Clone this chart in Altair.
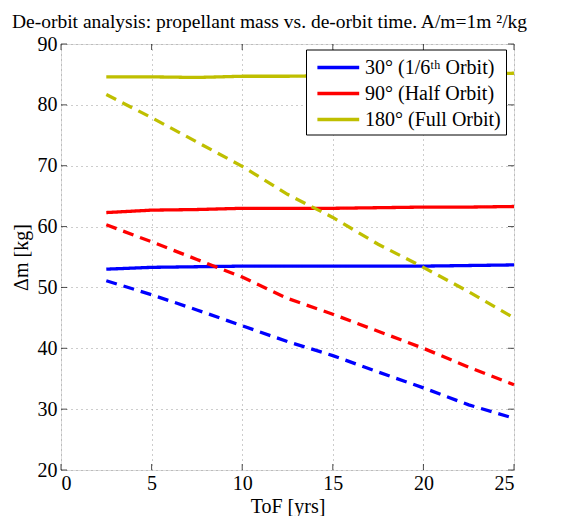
import altair as alt
import pandas as pd

tof = [2.5, 5, 7.5, 10, 12.5, 15, 17.5, 20, 22.5, 25]

series_names = ["30° (1/6ᵗʰ Orbit)", "90° (Half Orbit)", "180° (Full Orbit)"]
series_colors = ["#0000FF", "#FF0000", "#BFBF00"]

solid_30 = [53.0, 53.3, 53.4, 53.5, 53.5, 53.5, 53.5, 53.5, 53.6, 53.7]
solid_90 = [62.3, 62.7, 62.8, 63.0, 63.0, 63.0, 63.1, 63.2, 63.2, 63.3]
solid_180 = [84.6, 84.6, 84.5, 84.7, 84.7, 84.8, 84.8, 84.9, 85.0, 85.2]

dash_30 = [51.1, 48.8, 46.3, 43.7, 41.1, 38.8, 36.1, 33.5, 30.7, 28.5]
dash_90 = [60.3, 57.5, 54.6, 51.7, 48.2, 45.6, 42.8, 40.0, 36.9, 34.0]
dash_180 = [81.7, 77.9, 73.9, 69.9, 65.3, 61.5, 57.1, 53.3, 49.3, 45.0]

x_ticks = [0, 5, 10, 15, 20, 25]
y_ticks = [20, 30, 40, 50, 60, 70, 80, 90]

rows = []
for name, s, d in zip(series_names, [solid_30, solid_90, solid_180], [dash_30, dash_90, dash_180]):
    for t, v in zip(tof, s):
        rows.append({"tof": t, "dm": v, "series": name, "kind": "solid", "line": name + " solid"})
    for t, v in zip(tof, d):
        rows.append({"tof": t, "dm": v, "series": name, "kind": "dashed", "line": name + " dashed"})
df = pd.DataFrame(rows)
xt = pd.DataFrame({"v": x_ticks})
yt = pd.DataFrame({"v": y_ticks})

W, H = 453, 426
FONT = "Liberation Serif"

xscale = alt.Scale(domain=[0, 25], nice=False, zero=False)
yscale = alt.Scale(domain=[20, 90], nice=False, zero=False)

grid_axis = dict(labelFont=FONT, labelFontSize=20, labelColor="black",
                 titleFont=FONT, titleFontSize=20, titleColor="black", titleFontWeight="normal",
                 ticks=False, domain=False, grid=True, gridColor="#9a9a9a",
                 gridDash=[1, 4], gridWidth=1)

lines = alt.Chart(df).mark_line(strokeWidth=3.3).encode(
    x=alt.X("tof:Q", scale=xscale,
            axis=alt.Axis(values=x_ticks, title="ToF [yrs]", labelPadding=3, titlePadding=3, **grid_axis)),
    y=alt.Y("dm:Q", scale=yscale,
            axis=alt.Axis(values=y_ticks, title="Δm [kg]", labelPadding=4, titlePadding=6, **grid_axis)),
    color=alt.Color("series:N", scale=alt.Scale(domain=series_names, range=series_colors),
                    legend=alt.Legend(title=None, orient="none", legendX=245, legendY=5.5,
                                      symbolType="M-0.6,0H3.2", symbolSize=484, symbolStrokeWidth=3.3,
                                      labelFont=FONT, labelFontSize=20, labelColor="black",
                                      strokeColor="black", fillColor="white", padding=5,
                                      rowPadding=3, labelOffset=28, labelLimit=300)),
    strokeDash=alt.StrokeDash("kind:N", scale=alt.Scale(domain=["solid", "dashed"], range=[[1, 0], [11, 7]]),
                              legend=None),
    detail="line:N",
)

tick_style = dict(color="black", size=6, thickness=1)
bottom_ticks = alt.Chart(xt).mark_tick(orient="vertical", yOffset=-3, **tick_style).encode(
    x=alt.X("v:Q", scale=xscale), y=alt.datum(20))
top_ticks = alt.Chart(xt).mark_tick(orient="vertical", yOffset=3, **tick_style).encode(
    x=alt.X("v:Q", scale=xscale), y=alt.datum(90))
left_ticks = alt.Chart(yt).mark_tick(orient="horizontal", xOffset=3, **tick_style).encode(
    y=alt.Y("v:Q", scale=yscale), x=alt.datum(0))
right_ticks = alt.Chart(yt).mark_tick(orient="horizontal", xOffset=-3, **tick_style).encode(
    y=alt.Y("v:Q", scale=yscale), x=alt.datum(25))

chart = alt.layer(lines, bottom_ticks, top_ticks, left_ticks, right_ticks).properties(
    width=W, height=H,
    title=alt.Title("De-orbit analysis: propellant mass vs. de-orbit time. A/m=1m ²/kg",
                    font=FONT, fontSize=19.5, fontWeight="normal", color="black",
                    anchor="middle", dx=-18, offset=1.5),
    padding={"left": 3, "top": 4, "right": 5, "bottom": 0},
).configure_view(stroke="black", strokeWidth=1.2).configure(background="white")

chart.save("out.html", embed_options={"renderer": "svg", "actions": False})
